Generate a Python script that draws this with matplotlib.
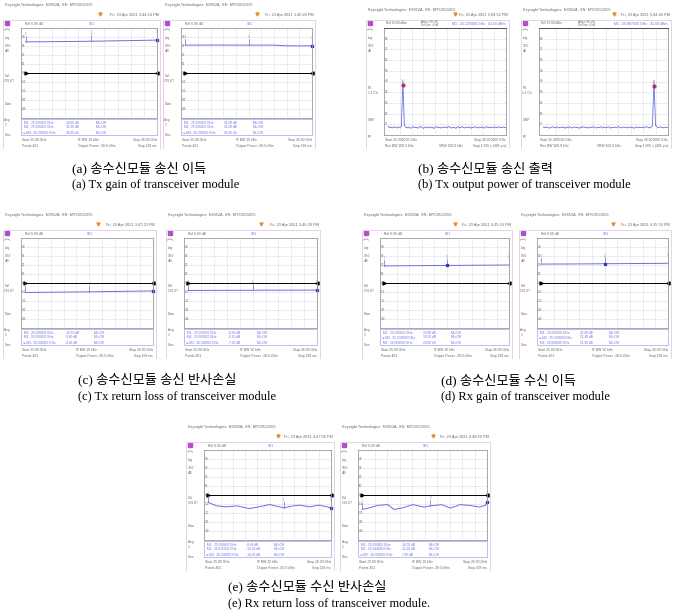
import numpy as np
import matplotlib.pyplot as plt
from matplotlib.patches import Rectangle, Arc

# ---------------- data ----------------
# network analyser traces (S21 / S11, dB) at 25..26 GHz
freq_na = [25.0, 25.1, 25.2, 25.3, 25.4, 25.5, 25.6, 25.7, 25.8, 25.9, 26.0]
a1_gain = [34.6, 34.7, 34.8, 35.0, 35.1, 35.3, 35.5, 35.8, 36.0, 36.3, 36.6]
a2_gain = [31.0, 31.0, 31.1, 31.1, 31.0, 31.0, 31.0, 31.0, 30.2, 30.1, 30.2]
c1_loss = [-10.5, -10.4, -10.2, -10.1, -10.0, -9.8, -9.6, -9.4, -9.2, -9.0, -8.8]
c2_loss = [-8.3, -8.3, -8.2, -8.2, -8.1, -8.1, -8.0, -8.0, -8.0, -7.9, -7.9]
d1_gain = [19.0, 19.1, 19.2, 19.3, 19.4, 19.5, 19.6, 19.7, 19.8, 19.9, 20.0]
d2_gain = [21.0, 21.1, 21.1, 21.2, 21.3, 21.4, 21.5, 21.6, 21.7, 21.8, 21.9]

e1_freq = [25.0, 25.07, 25.145, 25.235, 25.337, 25.426, 25.5, 25.615, 25.69,
           25.75, 25.82, 25.9, 25.96, 26.0]
e1_loss = [-8.3, -12.1, -13.2, -12.1, -15.1, -12.8, -10.6, -14.3, -12.1,
           -11.3, -13.2, -11.3, -12.8, -14.3]
e2_freq = [25.0, 25.05, 25.127, 25.203, 25.253, 25.316, 25.405, 25.494, 25.544,
           25.633, 25.709, 25.785, 25.861, 25.937, 25.987, 26.0]
e2_loss = [-16.0, -14.5, -11.5, -10.7, -16.0, -14.5, -10.7, -13.4, -12.2,
           -10.7, -14.5, -10.7, -11.5, -13.4, -11.5, -7.6]

# spectrum analyser traces (output power), 81 sweep points each
b1_power = [-2.0, -3.1, -2.6, -3.4, -2.2, -2.9, -3.5, -2.4, -3.0, -2.1, 41.5,
            -1.2, -2.7, -3.3, -2.5, -3.8, -2.9, -2.2, -3.2, -2.6, -3.6, -2.8,
            -2.0, -3.1, -3.7, -2.5, -2.9, -3.4, -2.3, -3.0, -2.6, -3.9, -2.7,
            -2.2, -3.3, -2.8, -3.6, -2.4, -3.1, -2.5, -3.2, -2.0, -2.9, -3.5,
            -2.6, -3.0, -3.8, -2.3, -2.8, -3.3, -2.1, -2.9, -3.4, -2.6, -3.1,
            -2.4, -3.7, -2.7, -3.2, -2.2, -2.8, -3.5, -2.5, -3.0, -2.3, -3.6,
            -2.9, -2.1, -3.2, -2.7, -3.3, -2.4, -3.0, -2.6, -3.4, -2.2, -2.8,
            -3.1, -2.5, -3.0, -2.7]
b2_power = [-2.6, -3.2, -2.4, -3.0, -3.6, -2.7, -2.2, -3.3, -2.9, -2.5, -3.4,
            -2.8, -3.1, -2.3, -3.7, -2.6, -3.0, -2.2, -3.5, -2.9, -2.4, -3.2,
            -2.7, -3.8, -2.5, -3.0, -2.1, -3.3, -2.8, -3.6, -2.6, -3.1, -2.3,
            -2.9, -3.4, -2.7, -3.0, -2.2, -3.5, -2.5, -3.2, -2.8, -2.4, -3.6,
            -2.9, -3.1, -2.6, -3.3, -2.0, -2.8, -3.4, -2.5, -3.0, -2.7, -3.5,
            -2.3, -3.1, -2.6, -3.7, -2.9, -2.4, -3.2, -2.8, -3.0, -2.5, -3.3,
            -2.1, -2.7, -3.4, -2.9, -1.5, 41.0, -1.0, -2.6, -3.1, -2.4, -2.9,
            -3.3, -2.6, -3.0, -2.8]

dates = ['Fri, 23 Apr 2021 3:44:18 PM', 'Fri, 23 Apr 2021 3:45:28 PM',
         'Fri, 23 Apr 2021 5:04:52 PM', 'Fri, 23 Apr 2021 5:04:46 PM',
         'Fri, 23 Apr 2021 3:47:30 PM', 'Fri, 23 Apr 2021 3:46:29 PM',
         'Fri, 23 Apr 2021 4:35:10 PM', 'Fri, 23 Apr 2021 4:35:59 PM',
         'Fri, 23 Apr 2021 4:47:05 PM', 'Fri, 23 Apr 2021 4:48:50 PM']

captions_kr = ['(a) 송수신모듈 송신 이득', '(b) 송수신모듈 송신 출력',
               '(c) 송수신모듈 송신 반사손실', '(d) 송수신모듈 수신 이득',
               '(e) 송수신모듈 수신 반사손실']
captions_en = ['(a) Tx gain of transceiver module',
               '(b) Tx output power of transceiver module',
               '(c) Tx return loss of transceiver module',
               '(d) Rx gain of transceiver module',
               '(e) Rx return loss of transceiver module.']

# ---------------- drawing ----------------
FW, FH = 673, 612
fig = plt.figure(figsize=(FW / 100, FH / 100), dpi=100)
bg = fig.add_axes([0, 0, 1, 1])
bg.set_xlim(0, FW)
bg.set_ylim(FH, 0)
bg.axis('off')

TRACE = '#6a6ee0'
PURPLE = '#b050c8'
PINK = '#ead0ea'
GREY = '#666666'
TINY = 2.6
SANS = ['Liberation Sans', 'DejaVu Sans']


def txt(x, y, s, size=TINY, color=GREY, ha='left'):
    bg.text(x, y, s, fontsize=size, color=color, ha=ha, va='center', family=SANS)


def plot_axes(l, t, r, b):
    ax = fig.add_axes([l / FW, 1 - b / FH, (r - l) / FW, (b - t) / FH])
    ax.tick_params(length=0, labelbottom=False, labelleft=False)
    for s in ax.spines.values():
        s.set_color('#9a9a9a')
        s.set_linewidth(0.6)
    ax.grid(True, ls=(0, (1, 1.5)), color='#b0b0b0', lw=0.4)
    return ax


def frame(x0, y0, W, top, date, hdr_y, side):
    txt(x0 + 2, y0 + hdr_y, 'Keysight Technologies: N9952A, SN: MY59511655', 2.8)
    txt(x0 + W - 1, y0 + 15, date, 2.8, ha='right')
    bg.plot(x0 + 0.62 * W, y0 + 14, marker='v', color='#e8902a', ms=2.2)
    bg.plot([x0, x0 + W], [y0 + top, y0 + top], color=PINK, lw=0.7)
    bg.plot([x0, x0], [y0 + top, y0 + 148], color=PINK, lw=0.7)
    bg.plot([x0 + W, x0 + W], [y0 + top, y0 + 148], color=PINK, lw=0.7)
    bg.add_patch(Rectangle((x0 + 1.5, y0 + top + 0.5), 4.5, 4.5, color=PURPLE))
    # small arc symbol under the channel icon
    bg.add_patch(Arc((x0 + 4, y0 + top + 10.5), 5, 3, theta1=180, theta2=360,
                     color=GREY, lw=0.4))
    for dy, s in side:
        txt(x0 + 1.5, y0 + dy, s, 2.3)


def na_screen(x0, y0, W, date, freq, vals, active):
    frame(x0, y0, W, 20, date, 5,
          [(38, 'Log'), (46, '10.0'), (51, 'dB/'), (76, 'Cal'),
           (81, 'ON U?'), (104, 'Data'), (120, 'Avg'), (125, '1'), (135, 'Sms')])
    l, r, t, b = x0 + 18, x0 + W - 3, y0 + 28, y0 + 118
    txt(l + 4, y0 + 24, 'Ref 0.00 dB', 2.4)
    txt((l + r) / 2, y0 + 24, 'S21', 2.4, TRACE)
    ax = plot_axes(l, t, r, b)
    span = freq[-1] - freq[0]
    ax.set_xlim(freq[0] - 0.035 * span, freq[-1])
    ax.set_ylim(-50, 50)
    ax.set_xticks(np.arange(25.1, 25.95, 0.1))
    ax.set_yticks(range(-40, 50, 10))
    for yv in range(-40, 50, 10):
        ax.text(freq[0] - 0.03 * span, yv, str(yv), fontsize=2.2, color=GREY,
                va='center', family=SANS)
    ax.plot([freq[0], freq[-1]], [0, 0], color='k', lw=0.7)
    ax.plot(freq[0], 0, marker='>', color='k', ms=2.2)
    ax.plot(freq[-1], 0, marker='<', color='k', ms=2.2, clip_on=False)
    ax.plot(freq, vals, color=TRACE, lw=0.7)
    mid = len(freq) // 2
    marks = [(freq[0], vals[0]), (freq[mid], vals[mid]), (freq[-1], vals[-1])]
    for i, (f, v) in enumerate(marks):
        ax.plot([f, f], [v, v + 7], color=TRACE, lw=0.5, clip_on=False)
        ax.text(f, v + 8, str(i + 1), fontsize=1.8, color=TRACE, ha='center')
        if i == active:
            ax.plot(f, v, marker='s', color='#3038b0', ms=2, clip_on=False)
    # marker table
    bg.add_patch(Rectangle((l, b + 1), r - l, 16, fill=False, ec='#a0a4ea', lw=0.5))
    for i, (f, v) in enumerate(marks):
        yy = b + 4.5 + 5 * i
        lab = ('►' if i == active else ' ') + f'M{i + 1}:'
        txt(l + 2, yy, f'{lab}  {f:.6f} GHz', 2.3, TRACE)
        txt(l + 0.33 * (r - l), yy, f'{v:.2f} dB', 2.3, TRACE)
        txt(l + 0.55 * (r - l), yy, f'M{i + 4}=Off', 2.3, TRACE)
    txt(l + 1, y0 + 140, 'Start 25.00 GHz', 2.4)
    txt(l + 0.42 * (r - l), y0 + 140, 'IF BW 10 kHz', 2.4)
    txt(r, y0 + 140, 'Stop 26.00 GHz', 2.4, ha='right')
    txt(l + 1, y0 + 146, 'Points 401', 2.4)
    txt(l + 0.42 * (r - l), y0 + 146, 'Output Power -30.0 dBm', 2.4)
    txt(r, y0 + 146, 'Swp 298 ms', 2.4, ha='right')


def sa_screen(x0, y0, W, date, power):
    frame(x0, y0, W, 20, date, 10,
          [(38, 'Log'), (46, '10.0'), (51, 'dB'), (88, 'PK'),
           (93, '1.1 Ch'), (120, 'SWP'), (137, 'RF')])
    l, r, t, b = x0 + 18, x0 + W - 3, y0 + 28, y0 + 135
    freq = np.linspace(25.0, 26.0, len(power))
    k = int(np.argmax(power))
    txt(l + 2, y0 + 23, 'Ref 90.00 dBm', 2.3)
    txt(l + 0.3 * (r - l), y0 + 22, 'Atten 30 dB', 2.3)
    txt(l + 0.3 * (r - l), y0 + 25, 'Ext Gain +0 dB', 1.8)
    txt(r, y0 + 24, f'M1:  {freq[k]:.6f} GHz   {power[k]:.2f} dBm', 2.6, TRACE, 'right')
    ax = plot_axes(l, t, r, b)
    ax.spines['top'].set_color('#333333')
    ax.set_xlim(25.0 - 0.035, 26.0)
    ax.set_ylim(-10, 90)
    ax.set_xticks(np.arange(25.1, 25.95, 0.1))
    ax.set_yticks(range(0, 90, 10))
    for yv in range(0, 90, 10):
        ax.text(25.0 - 0.03, yv, str(yv), fontsize=2.2, color=GREY,
                va='center', family=SANS)
    ax.plot(freq, power, color=TRACE, lw=0.6)
    ax.plot(freq[k], power[k] - 5, marker='o', color='#b03070', ms=2)
    txt(l + 1, y0 + 140, 'Start 25.000000 GHz', 2.4)
    txt(r, y0 + 140, 'Stop 26.000000 GHz', 2.4, ha='right')
    txt(l + 1, y0 + 146, 'Res BW 100.0 kHz', 2.4)
    txt(l + 0.45 * (r - l), y0 + 146, 'VBW 100.0 kHz', 2.4)
    txt(r, y0 + 146, 'Swp 1.005 s (401 pts)', 2.4, ha='right')


na_screen(3, 0, 157, dates[0], freq_na, a1_gain, 2)
na_screen(163, 0, 152, dates[1], freq_na, a2_gain, 2)
sa_screen(366, 0, 143, dates[2], b1_power)
sa_screen(521, 0, 150, dates[3], b2_power)
na_screen(3, 210, 153, dates[4], freq_na, c1_loss, 2)
na_screen(166, 210, 154, dates[5], freq_na, c2_loss, 2)
na_screen(362, 210, 150, dates[6], freq_na, d1_gain, 1)
na_screen(519, 210, 152, dates[7], freq_na, d2_gain, 1)
na_screen(186, 422, 148, dates[8], e1_freq, e1_loss, 2)
na_screen(340, 422, 150, dates[9], e2_freq, e2_loss, 2)

cap_pos = [(72, 168), (418, 168), (78, 379), (441, 380), (228, 586)]
for (x, y), kr, en in zip(cap_pos, captions_kr, captions_en):
    bg.text(x, y, kr, fontsize=9.5, va='center', ha='left',
            family=['Liberation Serif', 'Noto Sans CJK KR'])
    bg.text(x, y + 17, en, fontsize=9, va='center', ha='left',
            family=['Liberation Serif', 'Noto Sans CJK KR'])

fig.savefig('out.png', dpi=100)
